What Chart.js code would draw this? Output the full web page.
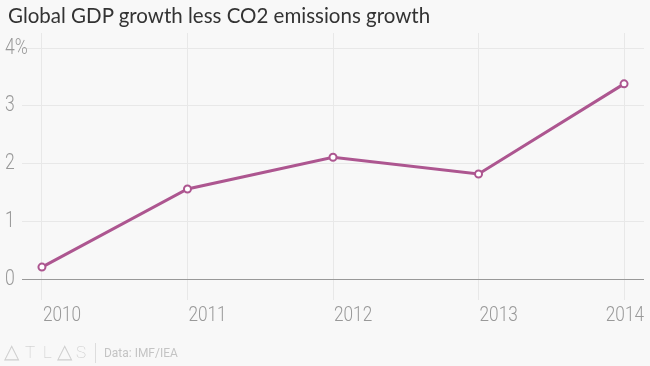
<!DOCTYPE html>
<html>
<head>
<meta charset="utf-8">
<script src="https://cdn.jsdelivr.net/npm/chart.js@4/dist/chart.umd.min.js"></script>
<style>
  body { margin: 0; background: #f8f8f8; }
  #wrap { position: relative; width: 650px; height: 366px; overflow: hidden; }
  #title { position: absolute; left: 8px; top: 3px; font: 20.5px Lato, sans-serif; color: #333; white-space: nowrap; }
  #footer { position: absolute; left: 0; top: 340px; width: 300px; height: 26px; color: #c8c8c8; }
  #footer span { position: absolute; white-space: nowrap; }
  #footer .l { top: 2px; font: 100 17px Roboto, sans-serif; }
  #footer .t { top: -1px; font: 200 20px "DejaVu Sans", sans-serif; color: #cfcfcf; }
  #footer .sep { left: 95px; top: 3px; width: 1px; height: 20px; background: #ddd; }
  #footer .src { left: 104px; top: 5px; font: 13px Roboto, sans-serif; transform: scaleX(0.92); transform-origin: left; color: #c4c4c4; }
  canvas { position: absolute; left: 0; top: 0; }
</style>
</head>
<body>
<div id="wrap">
  <canvas id="chart" width="650" height="366"></canvas>
  <div id="title">Global GDP growth less CO2 emissions growth</div>
  <div id="footer">
    <span class="t" style="left:4px">&#9651;</span>
    <span class="l" style="left:25px">T</span>
    <span class="l" style="left:43px">L</span>
    <span class="t" style="left:57px">&#9651;</span>
    <span class="l" style="left:76px">S</span>
    <span class="sep"></span>
    <span class="src">Data: IMF/IEA</span>
  </div>
</div>
<script>
// данные с картинки
const years = [2010, 2011, 2012, 2013, 2014];
const values = [0.21, 1.56, 2.11, 1.82, 3.38];
const yTicks = [0, 1, 2, 3, 4];

const lineColor = '#ad5690';
const labelColor = '#999';

// подписи осей рисуем сами, чуть сжатым шрифтом
const labelsPlugin = {
    id: 'labels',
    afterDraw(chart) {
        const c = chart.ctx;
        const xs = chart.scales.x, ys = chart.scales.y;
        c.save();
        c.fillStyle = labelColor;
        c.textBaseline = 'middle';
        c.textAlign = 'left';

        c.font = '300 21px Roboto';
        years.forEach(yr => {
            const px = xs.getPixelForValue(yr);
            const w = c.measureText(String(yr)).width * 0.82;
            let left = px + 1;
            if (left + w > chart.chartArea.right) left = chart.chartArea.right - w;
            c.save();
            c.translate(left, 316);
            c.scale(0.82, 1);
            c.fillText(String(yr), 0, 0);
            c.restore();
        });

        c.font = '300 22px Roboto';
        yTicks.forEach(v => {
            const py = ys.getPixelForValue(v);
            c.save();
            c.translate(5, py);
            c.scale(0.8, 1);
            c.fillText(v === 4 ? v + '%' : String(v), 0, 0);
            c.restore();
        });
        c.restore();
    }
};

const ctx = document.getElementById('chart').getContext('2d');
new Chart(ctx, {
    type: 'line',
    data: {
        datasets: [{
            data: years.map((y, i) => ({ x: y, y: values[i] })),
            borderColor: lineColor,
            borderWidth: 3,
            pointRadius: 3.5,
            pointBorderWidth: 2,
            pointBackgroundColor: '#fff',
            pointBorderColor: lineColor,
            tension: 0
        }]
    },
    options: {
        responsive: false,
        animation: false,
        layout: { padding: { left: 5, right: 5, top: 33, bottom: 66 } },
        plugins: { legend: { display: false }, tooltip: { enabled: false } },
        scales: {
            x: {
                type: 'linear',
                min: 2009.863,
                max: 2014.137,
                afterBuildTicks: axis => { axis.ticks = years.map(v => ({ value: v })); },
                afterFit: axis => { axis.height = 0; },
                grid: { color: '#e8e8e8', drawTicks: false },
                border: { display: false },
                ticks: { display: false }
            },
            y: {
                min: -0.36,
                max: 4.26,
                afterBuildTicks: axis => { axis.ticks = yTicks.map(v => ({ value: v })); },
                afterFit: axis => { axis.width = 17; },
                grid: {
                    color: c => c.tick && c.tick.value === 0 ? '#999' : '#e8e8e8',
                    drawTicks: false
                },
                border: { display: false },
                ticks: { display: false }
            }
        }
    },
    plugins: [labelsPlugin]
});
</script>
</body>
</html>
